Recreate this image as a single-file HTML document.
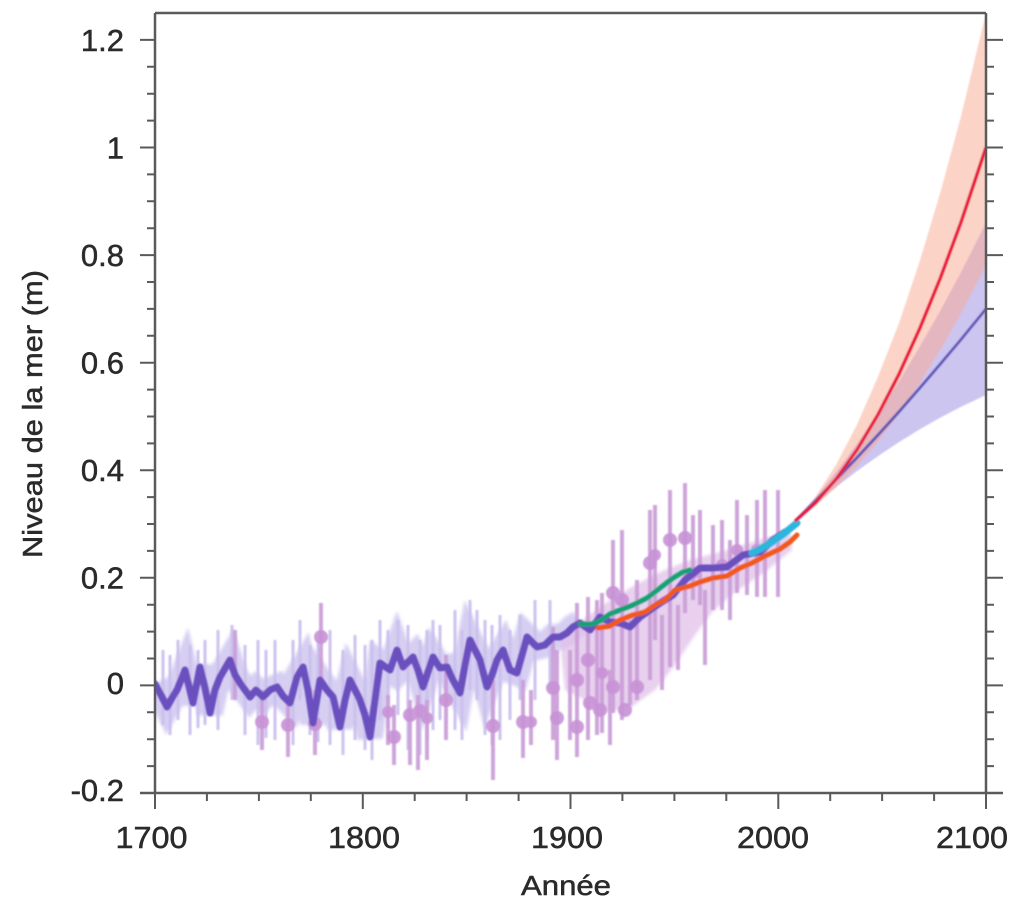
<!DOCTYPE html>
<html>
<head>
<meta charset="utf-8">
<style>
html,body{margin:0;padding:0;background:#fff;}
svg{display:block;}
text{font-family:"Liberation Sans", Arial, sans-serif; fill:#2a2a2a; stroke:#2a2a2a; stroke-width:0.5;}
</style>
</head>
<body>
<svg width="1023" height="901" viewBox="0 0 1023 901" xmlns="http://www.w3.org/2000/svg">
<defs>
<clipPath id="plot"><rect x="155" y="13" width="831" height="780"/></clipPath>
<filter id="soft" x="-5%" y="-5%" width="110%" height="110%"><feGaussianBlur stdDeviation="0.9"/></filter>
<filter id="softer" x="-5%" y="-5%" width="110%" height="110%"><feGaussianBlur stdDeviation="1.6"/></filter>
</defs>
<rect x="0" y="0" width="1023" height="901" fill="#fff"/>
<g clip-path="url(#plot)">
<g filter="url(#softer)">
<path d="M155,684 L161,695 L167,707 L172,698 L177,690 L185,670 L193,703 L200,667 L205,688 L210,713 L215,690 L220,677 L230,660 L235,675 L240,683 L250,697 L256,690 L263,697 L270,690 L277,687 L283,696 L290,703 L297,677 L303,667 L308,690 L313,723 L320,680 L327,690 L333,697 L340,727 L345,700 L350,680 L355,690 L360,700 L365,715 L370,737 L375,700 L380,663 L390,670 L397,650 L403,667 L413,657 L418,670 L423,687 L428,672 L433,657 L440,668 L447,667 L453,680 L460,693 L465,665 L470,640 L475,650 L480,660 L487,687 L492,675 L497,660 L503,650 L510,670 L517,673 L522,655 L527,637 L537,647 L545,645 L553,637 L560,637 L567,633 L573,627 L580,623" fill="none" stroke="#d3caf1" stroke-width="26" stroke-linejoin="miter" stroke-linecap="butt" opacity="0.9"/>
<path d="M560,640 L585,618 L610,600 L635,585 L660,572 L690,560 L720,552 L750,543 L790,530 L792,550 L765,572 L735,592 L712,612 L695,635 L675,665 L655,690 L630,708 L605,712 L585,700 L565,690 Z" fill="#e0c0e8" opacity="0.75"/>
</g>
<g filter="url(#soft)">
<g stroke="#cbc0ee" stroke-width="3" opacity="0.95">
<line x1="163" y1="650" x2="163" y2="725"/><line x1="178" y1="640" x2="178" y2="720"/><line x1="190" y1="645" x2="190" y2="735"/><line x1="205" y1="640" x2="205" y2="725"/><line x1="218" y1="630" x2="218" y2="730"/><line x1="232" y1="625" x2="232" y2="700"/><line x1="245" y1="645" x2="245" y2="735"/><line x1="258" y1="640" x2="258" y2="745"/><line x1="275" y1="640" x2="275" y2="740"/><line x1="293" y1="640" x2="293" y2="745"/><line x1="300" y1="620" x2="300" y2="700"/><line x1="310" y1="645" x2="310" y2="735"/><line x1="330" y1="630" x2="330" y2="745"/><line x1="343" y1="650" x2="343" y2="755"/><line x1="355" y1="635" x2="355" y2="740"/><line x1="372" y1="640" x2="372" y2="760"/><line x1="380" y1="620" x2="380" y2="720"/><line x1="398" y1="620" x2="398" y2="715"/><line x1="408" y1="625" x2="408" y2="750"/><line x1="420" y1="640" x2="420" y2="755"/><line x1="433" y1="620" x2="433" y2="730"/><line x1="440" y1="625" x2="440" y2="720"/><line x1="455" y1="610" x2="455" y2="730"/><line x1="462" y1="630" x2="462" y2="740"/><line x1="470" y1="600" x2="470" y2="690"/><line x1="485" y1="620" x2="485" y2="735"/><line x1="500" y1="615" x2="500" y2="740"/><line x1="510" y1="630" x2="510" y2="720"/><line x1="520" y1="615" x2="520" y2="700"/><line x1="535" y1="600" x2="535" y2="700"/><line x1="550" y1="600" x2="550" y2="690"/><line x1="170" y1="655" x2="170" y2="735"/><line x1="198" y1="650" x2="198" y2="728"/><line x1="266" y1="650" x2="266" y2="738"/><line x1="318" y1="640" x2="318" y2="742"/><line x1="365" y1="645" x2="365" y2="750"/><line x1="388" y1="630" x2="388" y2="728"/><line x1="427" y1="630" x2="427" y2="740"/><line x1="477" y1="610" x2="477" y2="700"/><line x1="492" y1="625" x2="492" y2="745"/>
</g>
<g stroke="#c99cd6" stroke-width="4" opacity="0.9">
<line x1="235" y1="630" x2="235" y2="700"/><line x1="262" y1="690" x2="262" y2="750"/><line x1="288" y1="700" x2="288" y2="757"/><line x1="315" y1="690" x2="315" y2="755"/><line x1="321" y1="603" x2="321" y2="680"/><line x1="388" y1="695" x2="388" y2="745"/><line x1="394" y1="705" x2="394" y2="765"/><line x1="410" y1="700" x2="410" y2="765"/><line x1="418" y1="695" x2="418" y2="770"/><line x1="427" y1="700" x2="427" y2="760"/><line x1="446" y1="655" x2="446" y2="740"/><line x1="493" y1="680" x2="493" y2="780"/><line x1="523" y1="680" x2="523" y2="758"/><line x1="531" y1="690" x2="531" y2="745"/><line x1="553" y1="627" x2="553" y2="740"/><line x1="557" y1="650" x2="557" y2="760"/><line x1="570" y1="650" x2="570" y2="740"/><line x1="577" y1="603" x2="577" y2="757"/><line x1="588" y1="597" x2="588" y2="740"/><line x1="597" y1="600" x2="597" y2="735"/><line x1="602" y1="593" x2="602" y2="733"/><line x1="610" y1="670" x2="610" y2="745"/><line x1="613" y1="540" x2="613" y2="713"/><line x1="622" y1="530" x2="622" y2="720"/><line x1="630" y1="620" x2="630" y2="705"/><line x1="637" y1="580" x2="637" y2="700"/><line x1="650" y1="510" x2="650" y2="680"/><line x1="655" y1="505" x2="655" y2="640"/><line x1="662" y1="615" x2="662" y2="690"/><line x1="670" y1="490" x2="670" y2="667"/><line x1="678" y1="605" x2="678" y2="670"/><line x1="685" y1="483" x2="685" y2="613"/><line x1="693" y1="515" x2="693" y2="600"/><line x1="700" y1="510" x2="700" y2="605"/><line x1="705" y1="590" x2="705" y2="665"/><line x1="713" y1="525" x2="713" y2="610"/><line x1="722" y1="520" x2="722" y2="610"/><line x1="730" y1="540" x2="730" y2="620"/><line x1="737" y1="500" x2="737" y2="593"/><line x1="747" y1="515" x2="747" y2="595"/><line x1="757" y1="500" x2="757" y2="597"/><line x1="765" y1="490" x2="765" y2="597"/><line x1="778" y1="490" x2="778" y2="597"/>
</g>
<g fill="#c792d5" opacity="0.9">
<circle cx="262" cy="722" r="7"/><circle cx="288" cy="725" r="7"/><circle cx="315" cy="724" r="7"/><circle cx="321" cy="637" r="7"/><circle cx="388" cy="712" r="6"/><circle cx="394" cy="737" r="7"/><circle cx="410" cy="715" r="7"/><circle cx="420" cy="711" r="7"/><circle cx="427" cy="718" r="6"/><circle cx="446" cy="700" r="7"/><circle cx="493" cy="726" r="7"/><circle cx="523" cy="722" r="7"/><circle cx="531" cy="722" r="6"/><circle cx="553" cy="688" r="7"/><circle cx="557" cy="718" r="7"/><circle cx="577" cy="680" r="7"/><circle cx="577" cy="727" r="7"/><circle cx="588" cy="660" r="7"/><circle cx="590" cy="703" r="7"/><circle cx="600" cy="710" r="7"/><circle cx="602" cy="673" r="6"/><circle cx="613" cy="593" r="7"/><circle cx="613" cy="687" r="7"/><circle cx="622" cy="600" r="7"/><circle cx="625" cy="710" r="7"/><circle cx="637" cy="687" r="7"/><circle cx="650" cy="563" r="7"/><circle cx="655" cy="555" r="6"/><circle cx="670" cy="540" r="7"/><circle cx="685" cy="538" r="7"/><circle cx="693" cy="573" r="6"/><circle cx="722" cy="565" r="6"/><circle cx="737" cy="550" r="6"/><circle cx="757" cy="550" r="6"/>
</g>
<path d="M155,684 L161,695 L167,707 L172,698 L177,690 L185,670 L193,703 L200,667 L205,688 L210,713 L215,690 L220,677 L230,660 L235,675 L240,683 L250,697 L256,690 L263,697 L270,690 L277,687 L283,696 L290,703 L297,677 L303,667 L308,690 L313,723 L320,680 L327,690 L333,697 L340,727 L345,700 L350,680 L355,690 L360,700 L365,715 L370,737 L375,700 L380,663 L390,670 L397,650 L403,667 L413,657 L418,670 L423,687 L428,672 L433,657 L440,668 L447,667 L453,680 L460,693 L465,665 L470,640 L475,650 L480,660 L487,687 L492,675 L497,660 L503,650 L510,670 L517,673 L522,655 L527,637 L537,647 L545,645 L553,637 L560,637 L567,633 L573,627 L580,623 L590,630 L600,617 L610,622 L620,623 L630,627 L640,617 L650,610 L660,603 L673,595 L685,580 L700,568 L712,568 L727,567 L743,555 L760,552 L773,540 L785,532" fill="none" stroke="#6a50bf" stroke-width="7" stroke-linejoin="round" stroke-linecap="round"/>
<path d="M598,628 L610,626 L620,620 L633,615 L645,612 L655,605 L665,600 L675,590 L690,586 L700,582 L713,578 L727,576 L740,568 L752,563 L765,556 L780,549 L790,542 L797,535" fill="none" stroke="#f0581e" stroke-width="5" stroke-linejoin="round" stroke-linecap="round"/>
<path d="M580,624 L592,624 L600,621 L610,614 L620,610 L633,605 L647,598 L660,588 L673,578 L683,572 L690,570" fill="none" stroke="#13a174" stroke-width="5" stroke-linejoin="round" stroke-linecap="round"/>
<path d="M752,553 L762,548 L772,542 L782,535 L792,527 L797,523" fill="none" stroke="#2ab6dd" stroke-width="7" stroke-linejoin="round" stroke-linecap="round"/>
<path d="M794.9,521.3 L815.6,497.7 L836.4,471.9 L857.2,443.9 L878.0,413.9 L898.8,381.6 L919.5,347.3 L940.3,310.7 L961.1,272.1 L986,222.8 L986,395.0 L961.1,406.7 L940.3,417.6 L919.5,429.4 L898.8,442.3 L878.0,456.1 L857.2,470.9 L836.4,486.8 L815.6,503.5 Z" fill="#ccc5f0"/>
<path d="M794.9,521.3 L815.6,496.6 L836.4,464.2 L857.2,424.3 L878.0,376.7 L898.8,323.7 L919.5,262 L940.3,192.6 L961.1,116 L986,13 L986,265.8 L961.1,313.4 L940.3,349.9 L919.5,383.4 L898.8,413.9 L878.0,441.4 L857.2,465.9 L836.4,487.3 L815.6,505.9 Z" fill="#f9a890" opacity="0.5"/>
<path d="M794.9,521.3 L815.6,500.6 L836.4,479.3 L857.2,457.4 L878,435 L898.8,412 L919.5,388.3 L940.3,364.1 L961.1,339.4 L986,308.9" fill="none" stroke="#5c52b6" stroke-width="2.8" stroke-linejoin="round"/>
<path d="M794.9,521.3 L815.6,502.7 L836.4,478.7 L857.2,449.4 L878.0,414.7 L898.8,374.5 L919.5,329.1 L940.3,278.2 L961.1,222.0 L986,147.5" fill="none" stroke="#e8183c" stroke-width="3.2" stroke-linejoin="round"/>
</g>
</g>
<g stroke="#5a5a5a" stroke-width="2.5" fill="none">
<line x1="155" y1="13" x2="986" y2="13"/><line x1="155" y1="13" x2="155" y2="793"/><line x1="986" y1="13" x2="986" y2="793"/><line x1="140" y1="793" x2="1003" y2="793"/>
</g>
<g stroke="#5a5a5a" stroke-width="2" fill="none">
<path d="M140,793H155 M140,685.4H155 M140,577.8H155 M140,470.2H155 M140,362.7H155 M140,255.1H155 M140,147.5H155 M140,39.9H155"/>
<path d="M147,766.1H155 M147,739.2H155 M147,712.3H155 M147,658.5H155 M147,631.6H155 M147,604.7H155 M147,550.9H155 M147,524H155 M147,497.1H155 M147,443.4H155 M147,416.5H155 M147,389.6H155 M147,335.8H155 M147,308.9H155 M147,282H155 M147,228.2H155 M147,201.3H155 M147,174.4H155 M147,120.6H155 M147,93.7H155 M147,66.8H155"/>
<path d="M986,793H1003 M986,685.4H1003 M986,577.8H1003 M986,470.2H1003 M986,362.7H1003 M986,255.1H1003 M986,147.5H1003 M986,39.9H1003"/>
<path d="M986,766.1H994 M986,739.2H994 M986,712.3H994 M986,658.5H994 M986,631.6H994 M986,604.7H994 M986,550.9H994 M986,524H994 M986,497.1H994 M986,443.4H994 M986,416.5H994 M986,389.6H994 M986,335.8H994 M986,308.9H994 M986,282H994 M986,228.2H994 M986,201.3H994 M986,174.4H994 M986,120.6H994 M986,93.7H994 M986,66.8H994"/>
<path d="M155,793V809 M362.8,793V809 M570.5,793V809 M778.3,793V809 M986,793V809"/>
<path d="M206.9,793V801 M258.9,793V801 M310.8,793V801 M414.7,793V801 M466.6,793V801 M518.6,793V801 M622.4,793V801 M674.4,793V801 M726.3,793V801 M830.2,793V801 M882.1,793V801 M934.1,793V801"/>
</g>
<g font-size="31" text-anchor="end">
<text x="124" y="51">1.2</text><text x="124" y="158.5">1</text><text x="124" y="266">0.8</text><text x="124" y="373.5">0.6</text><text x="124" y="481">0.4</text><text x="124" y="588.5">0.2</text><text x="124" y="694">0</text><text x="124" y="801">-0.2</text>
</g>
<g font-size="31" text-anchor="middle">
<text x="151.5" y="848" textLength="72" lengthAdjust="spacingAndGlyphs">1700</text><text x="364" y="848" textLength="72" lengthAdjust="spacingAndGlyphs">1800</text><text x="567" y="848" textLength="72" lengthAdjust="spacingAndGlyphs">1900</text><text x="773" y="848" textLength="72" lengthAdjust="spacingAndGlyphs">2000</text><text x="972" y="848" textLength="72" lengthAdjust="spacingAndGlyphs">2100</text>
</g>
<text x="566" y="895" font-size="28" text-anchor="middle" textLength="90" lengthAdjust="spacingAndGlyphs">Année</text>
<text transform="translate(42,414) rotate(-90)" font-size="28" text-anchor="middle" textLength="288" lengthAdjust="spacingAndGlyphs">Niveau de la mer (m)</text>
</svg>
</body>
</html>
